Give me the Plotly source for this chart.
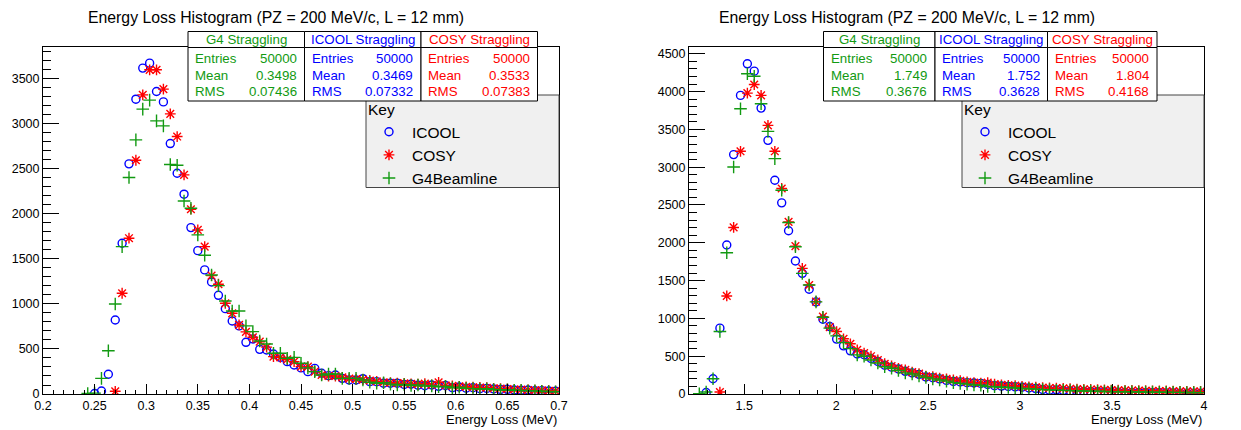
import numpy as np
import plotly.graph_objects as go

# the page body keeps its default 8px margin, so the figure is laid out 8px in from the corner
OFF = 8
W, H = 1241 - OFF, 430 - OFF
NBINS = 75

# ---- data: histogram bin contents (75 bins each) ----
left_lo, left_hi = 0.2, 0.7
right_lo, right_hi = 1.2, 4.0

left_icool = [0, 0, 0, 0, 0, 0, 0, 5, 33, 219, 822, 1674, 2556, 3274, 3619, 3674, 3359, 3244, 2781, 2452,
              2219, 1848, 1592, 1378, 1244, 1096, 948, 811, 756, 574, 611, 496, 489, 444, 407, 359, 322, 290, 248, 285,
              230, 204, 211, 174, 156, 156, 170, 137, 137, 119, 119, 119, 105, 110, 98, 92, 100, 85, 95, 70,
              78, 65, 70, 58, 62, 55, 50, 52, 45, 42, 44, 36, 38, 33, 30]
left_cosy = [0, 0, 0, 0, 0, 0, 0, 0, 0, 0, 30, 1119, 1730, 2596, 3322, 3600, 3600, 3386, 3111, 2859,
             2433, 2052, 1822, 1637, 1315, 1219, 1007, 896, 767, 690, 630, 581, 520, 415, 407, 385, 359, 304, 304, 248,
             211, 200, 200, 185, 170, 165, 160, 150, 140, 130, 125, 120, 118, 112, 108, 115, 100, 130, 95, 90,
             85, 80, 75, 72, 70, 62, 60, 56, 50, 48, 45, 42, 40, 36, 33]
left_g4 = [0, 0, 0, 0, 0, 0, 5, 10, 174, 481, 1000, 1637, 2404, 2822, 3163, 3263, 3033, 2978, 2548, 2541,
           2144, 2063, 1767, 1541, 1322, 1203, 1033, 922, 922, 756, 693, 589, 556, 452, 452, 396, 407, 341, 290, 248,
           211, 222, 222, 174, 174, 174, 156, 130, 119, 125, 110, 100, 105, 95, 100, 88, 90, 80, 85, 70,
           75, 62, 60, 55, 58, 50, 45, 48, 42, 40, 36, 35, 30, 28, 25]

right_icool = [0, 0, 20, 202, 871, 1970, 3166, 3949, 4367, 4270, 3781, 3355, 2827, 2528, 2159, 1759, 1596, 1385, 1218, 989,
               892, 726, 637, 571, 530, 520, 470, 430, 380, 355, 330, 300, 280, 260, 225, 215, 200, 180, 165, 160,
               150, 145, 140, 125, 110, 105, 100, 95, 90, 80, 72, 60, 50, 55, 45, 40, 38, 35, 33, 30,
               28, 25, 24, 22, 21, 20, 18, 17, 16, 14, 14, 12, 12, 11, 10]
right_cosy = [0, 0, 0, 0, 26, 1297, 2203, 3210, 3979, 4093, 3949, 3553, 3210, 2718, 2277, 1956, 1662, 1442, 1222, 1024,
              884, 826, 730, 664, 584, 540, 500, 450, 400, 370, 340, 320, 290, 270, 235, 230, 210, 200, 185, 175,
              160, 150, 145, 150, 130, 120, 115, 110, 100, 95, 90, 85, 80, 78, 75, 70, 65, 62, 60, 58,
              55, 52, 50, 48, 47, 45, 43, 42, 40, 40, 38, 36, 35, 34, 33]
right_g4 = [0, 4, 26, 202, 826, 1868, 3003, 3773, 4235, 4203, 3839, 3473, 3113, 2695, 2269, 1947, 1596, 1442, 1218, 1016,
            871, 769, 680, 600, 518, 500, 450, 410, 360, 340, 310, 280, 265, 240, 220, 200, 185, 170, 150, 140,
            130, 120, 115, 100, 95, 90, 85, 80, 72, 70, 65, 58, 55, 50, 48, 45, 42, 40, 38, 36,
            34, 32, 30, 29, 28, 27, 26, 25, 24, 23, 22, 21, 20, 19, 18]

title_text = "Energy Loss Histogram (PZ = 200 MeV/c, L = 12 mm)"
stat_names = ["G4 Straggling", "ICOOL Straggling", "COSY Straggling"]
left_stats = [("50000", "0.3498", "0.07436"), ("50000", "0.3469", "0.07332"), ("50000", "0.3533", "0.07383")]
right_stats = [("50000", "1.749", "0.3676"), ("50000", "1.752", "0.3628"), ("50000", "1.804", "0.4168")]

left_xticks = [0.2, 0.25, 0.3, 0.35, 0.4, 0.45, 0.5, 0.55, 0.6, 0.65, 0.7]
left_xlabels = ["0.2", "0.25", "0.3", "0.35", "0.4", "0.45", "0.5", "0.55", "0.6", "0.65", "0.7"]
left_yticks = [0, 500, 1000, 1500, 2000, 2500, 3000, 3500]
right_xticks = [1.5, 2, 2.5, 3, 3.5, 4]
right_xlabels = ["1.5", "2", "2.5", "3", "3.5", "4"]
right_yticks = [0, 500, 1000, 1500, 2000, 2500, 3000, 3500, 4000, 4500]

BLUE = "#0000ff"
RED = "#ff0000"
GREEN = "#129a12"
FONT = "Liberation Sans, Arial, sans-serif"


def centers(lo, hi):
    edges = np.linspace(lo, hi, NBINS + 1)
    return 0.5 * (edges[:-1] + edges[1:])


# screen pixel -> paper coordinate
def px(x):
    return (x - OFF) / W


def py(y):
    return 1 - (y - OFF) / H


fig = go.Figure()

series = [
    ("ICOOL", left_icool, right_icool, "circle-open", BLUE, 8),
    ("COSY", left_cosy, right_cosy, "asterisk-open", RED, 9),
    ("G4Beamline", left_g4, right_g4, "cross-thin-open", GREEN, 9),
]
for name, lv, rv, sym, col, sz in series:
    for vals, lo, hi, xa, ya, leg in [(lv, left_lo, left_hi, "x", "y", "legend"),
                                      (rv, right_lo, right_hi, "x2", "y2", "legend2")]:
        c = centers(lo, hi)
        v = np.array(vals, dtype=float)
        keep = v > 0  # empty bins are not drawn
        fig.add_trace(go.Scatter(
            x=c[keep], y=v[keep], mode="markers", name=name,
            xaxis=xa, yaxis=ya, legend=leg,
            marker=dict(symbol=sym, size=sz, color=col, line=dict(color=col, width=1.4)),
        ))

# axes (ROOT style frame with inside ticks)
frames = {"left": (43, 559, 46.5, 394), "right": (689, 1204, 46.5, 394)}
ax_common = dict(showgrid=False, zeroline=False, showline=True, linecolor="black", linewidth=1,
                 mirror=True, ticks="inside", tickcolor="black", automargin=False,
                 tickfont=dict(family=FONT, size=12.5, color="black"))
l0, l1, t0, t1 = frames["left"]
r0, r1, _, _ = frames["right"]
fig.update_layout(
    xaxis=dict(domain=[px(l0), px(l1)], range=[left_lo, left_hi], tickmode="array",
               tickvals=left_xticks, ticktext=left_xlabels, ticklen=10,
               minor=dict(ticks="inside", dtick=0.01, tick0=0.2, ticklen=4, tickcolor="black"),
               anchor="y", **ax_common),
    yaxis=dict(domain=[py(t1), py(t0)], range=[0, 3859], tickmode="array", tickvals=left_yticks,
               ticklen=16, minor=dict(ticks="inside", dtick=100, tick0=0, ticklen=8, tickcolor="black"),
               anchor="x", **ax_common),
    xaxis2=dict(domain=[px(r0), px(r1)], range=[right_lo, right_hi], tickmode="array",
                tickvals=right_xticks, ticktext=right_xlabels, ticklen=10,
                minor=dict(ticks="inside", dtick=0.1, tick0=0, ticklen=4, tickcolor="black"),
                anchor="y2", **ax_common),
    yaxis2=dict(domain=[py(t1), py(t0)], range=[0, 4596], tickmode="array", tickvals=right_yticks,
                ticklen=16, minor=dict(ticks="inside", dtick=100, tick0=0, ticklen=8, tickcolor="black"),
                anchor="x2", **ax_common),
)

shapes = []
annotations = []

# titles and x-axis labels
for cx, (f0, f1) in [(276, (l0, l1)), (907, (r0, r1))]:
    annotations.append(dict(x=px(cx), y=py(17), xref="paper", yref="paper", text=title_text,
                            showarrow=False, xanchor="center", yanchor="middle",
                            font=dict(family=FONT, size=15.8, color="black")))
    annotations.append(dict(x=px(f1), y=py(419), xref="paper", yref="paper", text="Energy Loss (MeV)",
                            showarrow=False, xanchor="right", yanchor="middle",
                            font=dict(family=FONT, size=13, color="black")))

# legend boxes (Key)
for bx0, bx1 in [(366, 559), (962, 1204)]:
    shapes.append(dict(type="rect", xref="paper", yref="paper", x0=px(bx0), x1=px(bx1),
                       y0=py(187.5), y1=py(95), fillcolor="#f0f0f0",
                       line=dict(color="#444444", width=1), layer="above"))

# stats boxes
stat_cols = [GREEN, BLUE, RED]
for edges, stats in [([188, 304.5, 421, 537.5], left_stats), ([823.5, 935, 1047.5, 1157], right_stats)]:
    for k in range(3):
        x0, x1 = edges[k], edges[k + 1]
        for (ya, yb) in [(31.5, 47.5), (47.5, 101)]:
            shapes.append(dict(type="rect", xref="paper", yref="paper", x0=px(x0), x1=px(x1),
                               y0=py(yb), y1=py(ya), fillcolor="white",
                               line=dict(color="black", width=1), layer="above"))
        col = stat_cols[k]
        f = dict(family=FONT, size=13.3, color=col)
        annotations.append(dict(x=px((x0 + x1) / 2), y=py(39.5), xref="paper", yref="paper",
                                text=stat_names[k], showarrow=False, xanchor="center",
                                yanchor="middle", font=f))
        for lab, val, yy in zip(["Entries", "Mean", "RMS"], stats[k], [58.5, 75, 91.5]):
            annotations.append(dict(x=px(x0 + 5), y=py(yy), xref="paper", yref="paper", text=lab,
                                    showarrow=False, xanchor="left", yanchor="middle", font=f))
            annotations.append(dict(x=px(x1 - 6), y=py(yy), xref="paper", yref="paper", text=val,
                                    showarrow=False, xanchor="right", yanchor="middle", font=f))

leg_common = dict(bgcolor="rgba(0,0,0,0)", borderwidth=0, itemwidth=36, xanchor="left", yanchor="top",
                  font=dict(family=FONT, size=15.5, color="black"),
                  title=dict(text="Key", font=dict(family=FONT, size=15.5, color="black")))
fig.update_layout(
    width=W, height=H, margin=dict(l=0, r=0, t=0, b=0),
    paper_bgcolor="white", plot_bgcolor="white",
    shapes=shapes, annotations=annotations,
    legend=dict(x=px(366), y=py(95), **leg_common),
    legend2=dict(x=px(962), y=py(95), **leg_common),
)

fig.write_html("out.html")
